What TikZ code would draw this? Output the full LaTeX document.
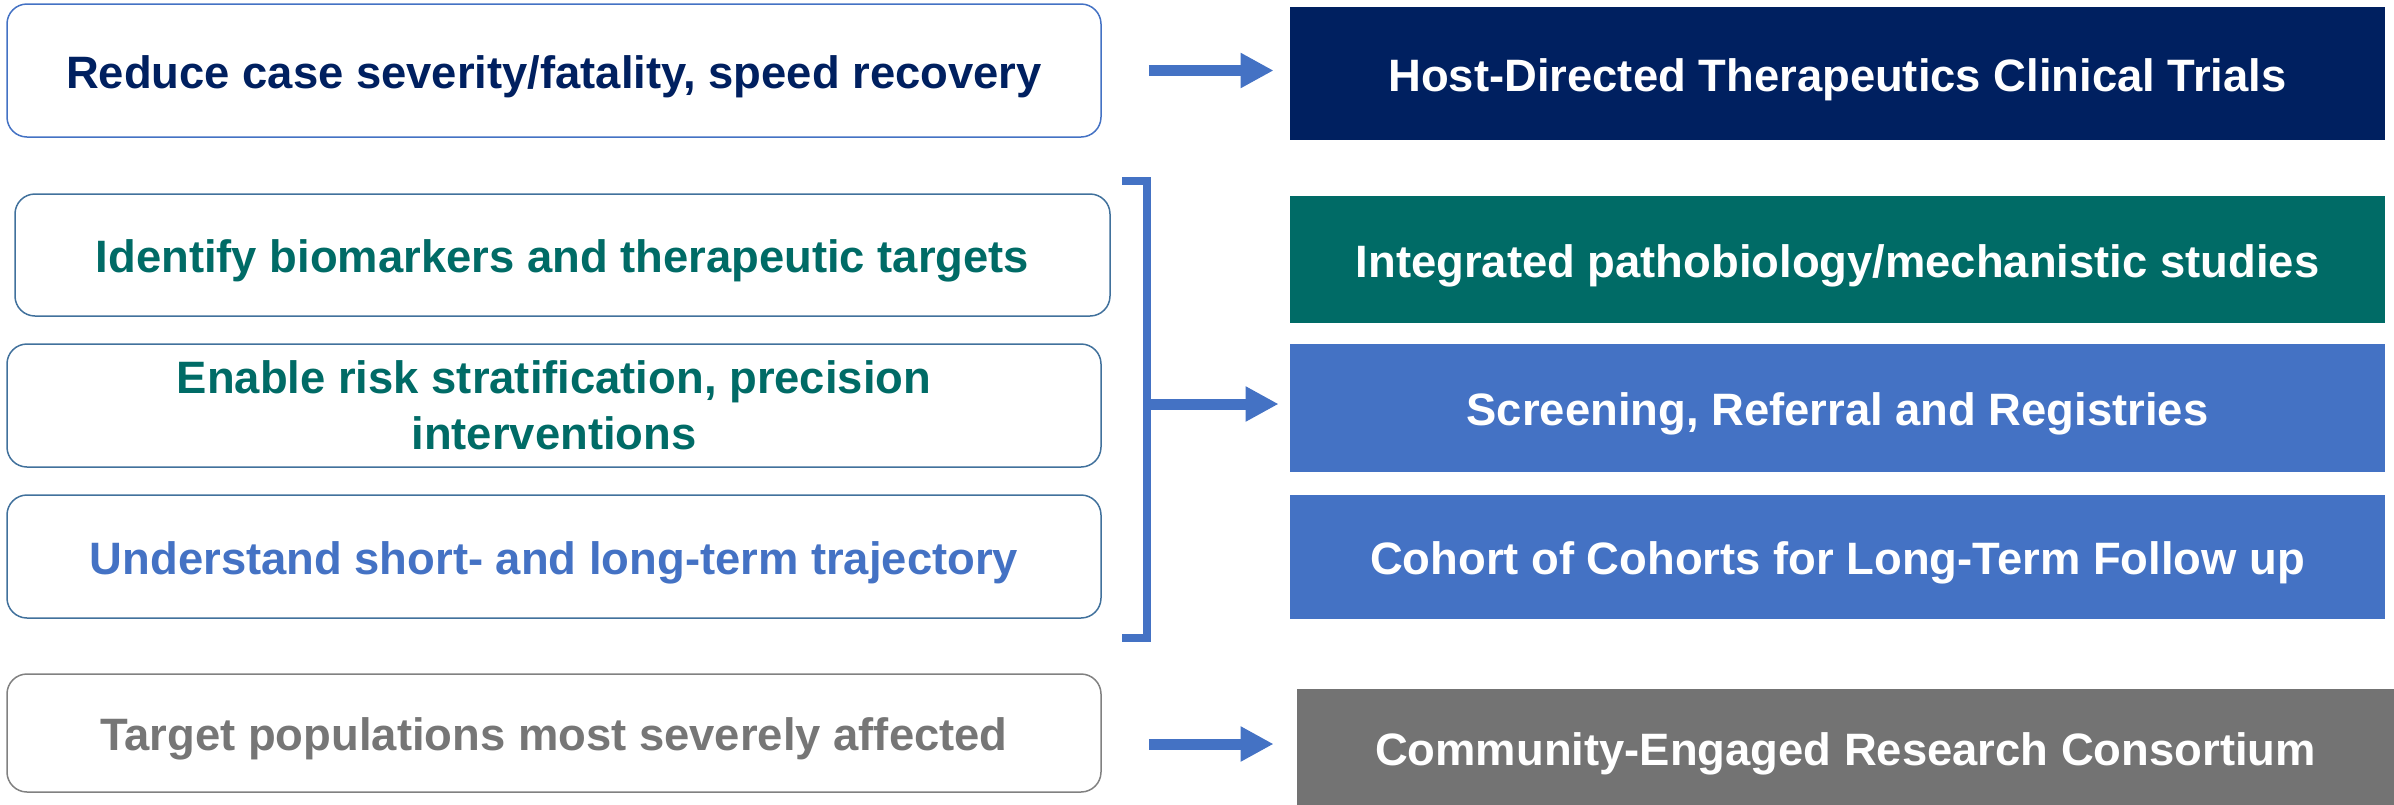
\documentclass[tikz,border=0pt]{standalone}
\usepackage{fontspec}
\setmainfont{Liberation Sans}
\usetikzlibrary{arrows.meta}
\definecolor{navy}{HTML}{002060}
\definecolor{teal2}{HTML}{006B66}
\definecolor{blue2}{HTML}{4472C4}
\definecolor{gray2}{HTML}{737373}
\definecolor{gtext}{HTML}{767676}
\definecolor{bord}{HTML}{41719C}
\begin{document}
\begin{tikzpicture}[x=0.5pt,y=-0.5pt,
  every node/.style={font=\fontsize{22.7}{28}\selectfont\bfseries, inner sep=0pt, align=center},
  oneline/.style={text height=20pt, text depth=2.5pt},
  lbox/.style={draw=bord, line width=0.75pt, rounded corners=10pt, fill=white},
  rbox/.style={draw=none, text=white},
  arr/.style={draw=blue2, line width=5.5pt, -{Triangle[length=16.5pt,width=16.5pt]}}]
\useasboundingbox (0,0) rectangle (2394,804);
% left boxes
\node[lbox, oneline, draw=blue2, text=navy, minimum width=547pt, minimum height=66.5pt] (L1) at (554,70.5) {Reduce case severity/fatality, speed recovery};
\node[lbox, oneline, text=teal2, minimum width=547.5pt, minimum height=61pt] (L2) at (562.5,255) {Identify biomarkers and therapeutic targets};
\node[lbox, text=teal2, minimum width=547pt, minimum height=61.5pt] (L3) at (554,405.5) {Enable risk stratification, precision\\interventions};
\node[lbox, oneline, text=blue2, minimum width=547pt, minimum height=61.5pt] (L4) at (554,556.5) {Understand short- and long-term trajectory};
\node[lbox, oneline, draw=gray2!90, text=gtext, minimum width=547pt, minimum height=59pt] (L5) at (554,733) {Target populations most severely affected};
% right boxes
\node[rbox, oneline, fill=navy, minimum width=547.5pt, minimum height=66.5pt] (R1) at (1837.5,73.5) {Host-Directed Therapeutics Clinical Trials};
\node[rbox, oneline, fill=teal2, minimum width=547.5pt, minimum height=63.5pt] (R2) at (1837.5,259.5) {Integrated pathobiology/mechanistic studies};
\node[rbox, oneline, fill=blue2, minimum width=547.5pt, minimum height=64pt] (R3) at (1837.5,408) {Screening, Referral and Registries};
\node[rbox, oneline, fill=blue2, minimum width=547.5pt, minimum height=62pt] (R4) at (1837.5,557) {Cohort of Cohorts for Long-Term Follow up};
\node[rbox, fill=gray2, minimum width=548.5pt, minimum height=65pt] (R5) at (1845.5,754) {Community-Engaged Research Consortium};
% bracket
\coordinate (bt) at (1122,181);
\coordinate (bb) at (1122,638);
\coordinate (bm) at (1151,404);
\draw[blue2, line width=4pt] (bt) -- ++(25,0) -- ++(0,457) -- (bb);
% arrows
\draw[arr, shorten <=23.5pt, shorten >=8pt] (L1.east) -- (L1.east -| R1.west);
\draw[arr, shorten >=5.5pt] (bm) -- (bm -| R3.west);
\draw[arr, shorten <=23.5pt, shorten >=11.5pt] ([yshift=-5.5pt]L5.east) -- ([yshift=-5.5pt]L5.east -| R5.west);
\end{tikzpicture}
\end{document}
